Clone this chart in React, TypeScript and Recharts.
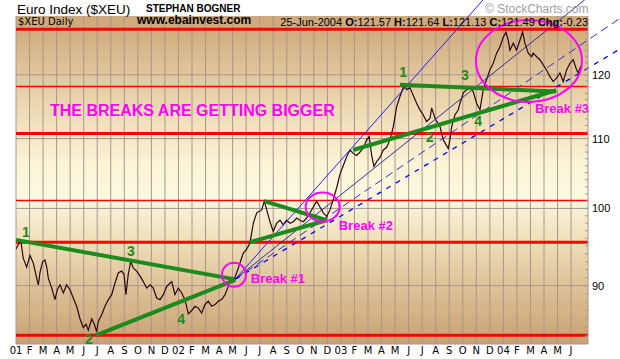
import React from "react";
import {
  LineChart,
  Line,
  XAxis,
  YAxis,
  CartesianGrid,
  ReferenceLine,
  ReferenceDot,
} from "recharts";

// x = months since Jan 2001, y = index value (log scale)
const monthLabels = [
  "01", "F", "M", "A", "M", "J", "J", "A", "S", "O", "N", "D",
  "02", "F", "M", "A", "M", "J", "J", "A", "S", "O", "N", "D",
  "03", "F", "M", "A", "M", "J", "J", "A", "S", "O", "N", "D",
  "04", "F", "M", "A", "M", "J",
];

const yLabels = [90, 100, 110, 120];

const pricePoints: [number, number][] = [
  [0.0, 94.6], [0.17, 95.2], [0.35, 95.7], [0.54, 93.4], [0.79, 92.3], [1.03, 93.8],
  [1.28, 92.8], [1.53, 90.9], [1.65, 90.1], [1.77, 91.6], [1.97, 93.0], [2.14, 93.2],
  [2.27, 92.3], [2.39, 90.9], [2.64, 89.7], [2.88, 88.3], [3.05, 89.5], [3.25, 90.1],
  [3.5, 89.1], [3.74, 90.1], [3.99, 89.5], [4.23, 88.5], [4.48, 87.5], [4.73, 86.0],
  [4.97, 85.0], [5.17, 85.4], [5.34, 84.7], [5.59, 86.0], [5.78, 85.4], [5.96, 84.5],
  [6.08, 85.7], [6.33, 86.5], [6.57, 87.5], [6.82, 88.3], [7.07, 88.9], [7.31, 90.3],
  [7.56, 91.6], [7.81, 91.8], [7.98, 91.4], [8.12, 88.9], [8.29, 91.4], [8.47, 93.0],
  [8.66, 92.2], [8.91, 91.8], [9.16, 91.2], [9.4, 90.5], [9.65, 89.7], [9.9, 90.1],
  [10.14, 89.7], [10.39, 88.5], [10.64, 88.3], [10.88, 88.9], [11.13, 89.9], [11.5, 90.5],
  [11.74, 88.9], [11.99, 89.7], [12.24, 89.1], [12.48, 88.3], [12.73, 86.6], [12.98, 87.0],
  [13.22, 87.5], [13.46, 87.3], [13.71, 86.7], [13.96, 87.7], [14.2, 88.1], [14.45, 87.5],
  [14.7, 87.7], [14.94, 88.1], [15.19, 88.3], [15.44, 88.9], [15.68, 89.9], [15.8, 90.9],
  [16.05, 90.5], [16.3, 91.6], [16.54, 92.8], [16.79, 94.1], [17.04, 94.6], [17.28, 95.4],
  [17.53, 98.0], [17.78, 99.4], [18.15, 99.8], [18.34, 101.0], [18.52, 99.8], [18.76, 98.2],
  [19.0, 96.9], [19.25, 98.0], [19.5, 98.4], [19.74, 97.8], [19.99, 98.4], [20.24, 98.0],
  [20.48, 98.2], [20.73, 98.7], [20.97, 98.4], [21.22, 98.2], [21.47, 98.7], [21.71, 99.4],
  [21.96, 100.2], [22.21, 101.0], [22.45, 100.2], [22.7, 99.4], [22.95, 98.9], [23.19, 99.8],
  [23.43, 101.2], [23.69, 102.9], [23.93, 104.8], [24.17, 106.0], [24.42, 107.3], [24.67, 108.3],
  [24.91, 107.8], [25.16, 107.5], [25.41, 108.0], [25.65, 108.6], [25.9, 109.8], [26.09, 110.3],
  [26.27, 107.5], [26.44, 105.9], [26.64, 106.6], [26.88, 107.2], [27.13, 108.3], [27.38, 108.7],
  [27.62, 109.8], [27.87, 111.8], [28.12, 114.9], [28.36, 116.5], [28.6, 117.9], [28.73, 118.2],
  [28.85, 117.6], [29.1, 117.9], [29.6, 115.4], [29.84, 114.4], [30.08, 113.6], [30.33, 112.6],
  [30.58, 113.1], [30.7, 114.7], [30.95, 113.1], [31.32, 111.8], [31.56, 109.8], [31.93, 108.5],
  [32.05, 109.8], [32.18, 111.8], [32.42, 113.6], [32.67, 114.4], [32.79, 115.4], [33.04, 117.1],
  [33.29, 117.6], [33.53, 117.9], [33.77, 117.3], [34.03, 115.4], [34.27, 114.4], [34.51, 117.6],
  [34.76, 119.2], [35.0, 120.8], [35.25, 121.9], [35.5, 123.6], [35.75, 124.7], [35.99, 126.3],
  [36.19, 127.2], [36.36, 125.8], [36.48, 124.1], [36.73, 125.3], [36.98, 124.1], [37.22, 125.8],
  [37.42, 127.2], [37.59, 125.3], [37.84, 123.6], [38.09, 123.0], [38.2, 123.6], [38.46, 123.0],
  [38.7, 122.5], [38.95, 121.6], [39.19, 120.8], [39.44, 119.7], [39.68, 118.9], [39.93, 119.5],
  [40.18, 120.3], [40.42, 118.9], [40.67, 120.8], [40.92, 121.9], [41.16, 122.5], [41.41, 120.8],
  [41.53, 120.3], [41.65, 121.1], [41.76, 121.5],
];

const heavyLevels = [127.7, 110.75, 95.5, 84.1];
const lightLevels = [118.1, 101.1];

// [x1, y1, x2, y2]
const greenLines = [
  [0, 95.8, 16.1, 90.8],
  [5.9, 84.1, 16.2, 90.7],
  [18.34, 101.0, 22.95, 98.4],
  [17.28, 95.5, 22.95, 98.4],
  [24.9, 108.3, 39.9, 117.5],
  [28.36, 118.4, 39.9, 117.3],
];

const fanSolid = [
  [16.2, 90.8, 34.49, 132.9],
  [16.2, 90.8, 42.0, 132.9],
];
const fanDashed = [
  [16.2, 90.8, 44.6, 129.6],
  [16.2, 90.8, 44.6, 124.3],
];

const waveNumbers: [string, number, number][] = [
  ["1", 0.74, 96.9],
  ["2", 5.39, 83.7],
  ["3", 8.49, 94.3],
  ["4", 12.19, 86.0],
  ["1", 28.6, 120.4],
  ["2", 30.58, 110.2],
  ["3", 33.16, 120.0],
  ["4", 34.14, 112.6],
];

const breakLabels: [string, number, number][] = [
  ["Break #1", 19.35, 91.0],
  ["Break #2", 25.84, 97.8],
  ["Break #3", 40.33, 114.7],
];

const breakCircles: [number, number][] = [
  [16.1, 91.35],
  [22.65, 100.2],
  [37.89, 122.3],
];
const circleSize = [
  [12, 12],
  [17, 14.5],
  [53, 41],
];

const priceData = pricePoints.map(([m, v]) => ({ m, v }));
const monthTicks = monthLabels.map((_, i) => i);
const minorTicks = Array.from({ length: 46 }, (_, i) => 84 + i);

const SANS = '"Liberation Sans", Arial, sans-serif';
const GRID = "#a99494";

const YTick = (props: any) => {
  const { x, y, payload } = props;
  const major = yLabels.includes(payload.value);
  return (
    <g>
      <line x1={x - 3} x2={x} y1={y} y2={y} stroke={GRID} />
      {major && (
        <text x={x + 4} y={y + 4} fontSize={11} fontFamily={SANS} fill="#000">
          {payload.value}
        </text>
      )}
    </g>
  );
};

const Header = () => (
  <svg
    width={620}
    height={359}
    style={{ position: "absolute", left: 0, top: 0, pointerEvents: "none" }}
  >
    <text x={17} y={13.5} fontSize={13.5} fontFamily={SANS}>
      Euro Index ($XEU)
    </text>
    <text x={146} y={11.5} fontSize={10} fontWeight="bold" fontFamily={SANS}>
      STEPHAN BOGNER
    </text>
    <text x={485} y={13} fontSize={12} fontFamily={SANS} fill="#a0a0a0">
      © StockCharts.com
    </text>
    <text x={18} y={25} fontSize={10} fontFamily="DejaVu Sans">
      $XEU Daily
    </text>
    <text x={137} y={24} fontSize={12} fontWeight="bold" fontFamily={SANS}>
      www.ebainvest.com
    </text>
    <text x={588} y={26} fontSize={11} fontFamily={SANS} textAnchor="end">
      25-Jun-2004 <tspan fontWeight="bold">O:</tspan>121.57{" "}
      <tspan fontWeight="bold">H:</tspan>121.64{" "}
      <tspan fontWeight="bold">L:</tspan>121.13{" "}
      <tspan fontWeight="bold">C:</tspan>121.49{" "}
      <tspan fontWeight="bold">Chg:</tspan>-0.23
    </text>
  </svg>
);

const App = () => {
  return (
    <div
      style={{
        position: "absolute",
        left: 0,
        top: 0,
        width: 620,
        height: 359,
        background: "#fff",
      }}
    >
      <LineChart
        width={620}
        height={359}
        data={priceData}
        margin={{ top: 16, right: 0, bottom: 0, left: 16 }}
      >
        <defs>
          <linearGradient id="bg" x1="0" y1="0" x2="0" y2="1">
            <stop offset="0" stopColor="#cfaa7c" />
            <stop offset="0.036" stopColor="#cfaa7c" />
            <stop offset="0.037" stopColor="#d0ab7d" />
            <stop offset="0.25" stopColor="#ead4ab" />
            <stop offset="0.45" stopColor="#fbf4d5" />
            <stop offset="0.55" stopColor="#fdf9df" />
            <stop offset="0.7" stopColor="#eddbb4" />
            <stop offset="0.85" stopColor="#dbbd91" />
            <stop offset="1" stopColor="#c9a171" />
          </linearGradient>
        </defs>
        <CartesianGrid
          fill="url(#bg)"
          stroke={GRID}
          horizontalValues={yLabels}
          verticalValues={monthTicks}
        />
        <XAxis
          type="number"
          dataKey="m"
          domain={[0, 42.25]}
          ticks={monthTicks}
          interval={0}
          tickFormatter={(i: number) => monthLabels[i]}
          height={15}
          tickSize={0}
          tickMargin={3}
          axisLine={{ stroke: GRID }}
          tickLine={false}
          tick={{ fontSize: 10, fill: "#000", fontFamily: "DejaVu Sans" }}
          allowDataOverflow
        />
        <YAxis
          orientation="right"
          scale="log"
          domain={[83.11, 130.03]}
          allowDataOverflow
          ticks={minorTicks}
          interval={0}
          width={32}
          tickSize={0}
          tickMargin={0}
          tickLine={false}
          axisLine={{ stroke: GRID }}
          tick={<YTick />}
        />
        {heavyLevels.map((lv) => (
          <ReferenceLine key={`h${lv}`} y={lv} stroke="#ff0000" strokeWidth={3} />
        ))}
        {lightLevels.map((lv) => (
          <ReferenceLine key={`l${lv}`} y={lv} stroke="#ff0000" strokeWidth={1.5} />
        ))}
        <Line
          dataKey="v"
          stroke="#2c0610"
          strokeWidth={1.2}
          dot={false}
          isAnimationActive={false}
        />
        {fanSolid.map(([x1, y1, x2, y2], i) => (
          <ReferenceLine
            key={`fs${i}`}
            segment={[{ x: x1, y: y1 }, { x: x2, y: y2 }]}
            stroke={i === 0 ? "#1f1fff" : "#30309a"}
            strokeWidth={1}
            ifOverflow="visible"
          />
        ))}
        {fanDashed.map(([x1, y1, x2, y2], i) => (
          <ReferenceLine
            key={`fd${i}`}
            segment={[{ x: x1, y: y1 }, { x: x2, y: y2 }]}
            stroke={i === 0 ? "#3030c0" : "#0000ff"}
            strokeWidth={i === 0 ? 1 : 1.3}
            strokeDasharray={i === 0 ? "8 5" : "5 6"}
            ifOverflow="visible"
          />
        ))}
        {greenLines.map(([x1, y1, x2, y2], i) => (
          <ReferenceLine
            key={`g${i}`}
            segment={[{ x: x1, y: y1 }, { x: x2, y: y2 }]}
            stroke="#1d8a1d"
            strokeWidth={4}
            ifOverflow="visible"
          />
        ))}
        {breakCircles.map(([m, v], i) => (
          <ReferenceDot
            key={`c${i}`}
            x={m}
            y={v}
            ifOverflow="visible"
            shape={(p: any) => (
              <ellipse
                cx={p.cx}
                cy={p.cy}
                rx={circleSize[i][0]}
                ry={circleSize[i][1]}
                fill="none"
                stroke="#ff00ff"
                strokeWidth={2}
              />
            )}
          />
        ))}
        {waveNumbers.map(([t, m, v], i) => (
          <ReferenceDot
            key={`w${i}`}
            x={m}
            y={v}
            ifOverflow="visible"
            shape={(p: any) => (
              <text
                x={p.cx}
                y={p.cy + 5}
                textAnchor="middle"
                fontSize={14}
                fontWeight="bold"
                fontFamily={SANS}
                fill="#1d8a1d"
              >
                {t}
              </text>
            )}
          />
        ))}
        {breakLabels.map(([t, m, v], i) => (
          <ReferenceDot
            key={`b${i}`}
            x={m}
            y={v}
            ifOverflow="visible"
            shape={(p: any) => (
              <text
                x={p.cx}
                y={p.cy + 5}
                textAnchor="middle"
                fontSize={13}
                fontWeight="bold"
                fontFamily={SANS}
                fill="#ff00ff"
              >
                {t}
              </text>
            )}
          />
        ))}
        <ReferenceDot
          x={2.51}
          y={114.4}
          ifOverflow="visible"
          shape={(p: any) => (
            <text
              x={p.cx}
              y={p.cy + 6}
              fontSize={16}
              fontWeight="bold"
              fontFamily={SANS}
              fill="#ff00ff"
            >
              THE BREAKS ARE GETTING BIGGER
            </text>
          )}
        />
      </LineChart>
      <Header />
    </div>
  );
};

export default App;
